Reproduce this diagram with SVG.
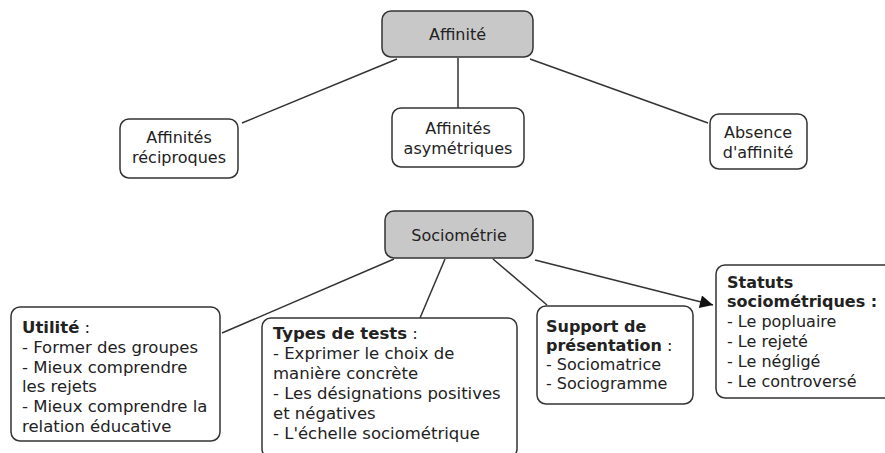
<svg xmlns="http://www.w3.org/2000/svg" width="885" height="453" viewBox="0 0 885 453">
<defs>
<style>
.box{fill:#fff;stroke:#333;stroke-width:1.5}
.hub{fill:#c8c8c8;stroke:#333;stroke-width:1.5}
.c{stroke:#333;stroke-width:1.5;fill:none}
text{font-family:"DejaVu Sans",Verdana,sans-serif;font-size:16px;fill:#222}
.l{font-size:16.5px}
.m{text-anchor:middle}
.b{font-weight:bold}
</style>
<marker id="arr" viewBox="0 0 10 10" refX="10" refY="5" markerWidth="18" markerHeight="13" markerUnits="userSpaceOnUse" orient="auto">
<path d="M0,0 L10,5 L0,10 Z" fill="#111"/>
</marker>
</defs>
<rect width="885" height="453" fill="#fff"/>
<g id="connectors">
<line class="c" x1="397" y1="59" x2="242" y2="123"/>
<line class="c" x1="458" y1="58" x2="458" y2="108"/>
<line class="c" x1="530" y1="59" x2="708" y2="123"/>
<line class="c" x1="394" y1="259" x2="222" y2="333"/>
<line class="c" x1="445" y1="259" x2="420" y2="318"/>
<line class="c" x1="493" y1="259" x2="547" y2="305"/>
<line class="c" x1="535" y1="260" x2="713" y2="305" marker-end="url(#arr)"/>
</g>
<g id="affinite">
<rect class="hub" x="382" y="11" width="151" height="46" rx="9"/>
<text class="m" x="457.5" y="40">Affinité</text>
</g>
<g id="reciproques">
<rect class="box" x="120" y="119" width="118" height="59" rx="9"/>
<text class="m" x="179" y="143">Affinités</text>
<text class="m" x="179" y="163">réciproques</text>
</g>
<g id="asymetriques">
<rect class="box" x="392" y="108" width="132" height="59" rx="9"/>
<text class="m" x="458" y="134">Affinités</text>
<text class="m" x="458" y="154">asymétriques</text>
</g>
<g id="absence">
<rect class="box" x="710" y="114" width="97" height="55" rx="9"/>
<text class="m" x="758" y="138">Absence</text>
<text class="m" x="758" y="158">d'affinité</text>
</g>
<g id="sociometrie">
<rect class="hub" x="385" y="211" width="148" height="47" rx="9"/>
<text class="m" x="459" y="241">Sociométrie</text>
</g>
<g id="utilite">
<rect class="box" x="11" y="307" width="209" height="134" rx="9"/>
<text class="l" x="22" y="333"><tspan class="b">Utilité</tspan> :</text>
<text class="l" x="22" y="352.8">- Former des groupes</text>
<text class="l" x="22" y="372.6">- Mieux comprendre</text>
<text class="l" x="22" y="392.4">les rejets</text>
<text class="l" x="22" y="412.2">- Mieux comprendre la</text>
<text class="l" x="22" y="432">relation éducative</text>
</g>
<g id="types">
<rect class="box" x="262" y="318" width="255" height="140" rx="9"/>
<text class="l" x="273" y="339"><tspan class="b">Types de tests</tspan> :</text>
<text class="l" x="273" y="359">- Exprimer le choix de</text>
<text class="l" x="273" y="379">manière concrète</text>
<text class="l" x="273" y="399">- Les désignations positives</text>
<text class="l" x="273" y="419">et négatives</text>
<text class="l" x="273" y="439">- L'échelle sociométrique</text>
</g>
<g id="support">
<rect class="box" x="537" y="306" width="156" height="98" rx="9"/>
<text x="546" y="332" class="b">Support de</text>
<text x="546" y="351"><tspan class="b">présentation</tspan> :</text>
<text x="546" y="370">- Sociomatrice</text>
<text x="546" y="389">- Sociogramme</text>
</g>
<g id="statuts">
<rect class="box" x="716" y="265" width="180" height="133" rx="9"/>
<text x="727" y="288" class="b">Statuts</text>
<text x="727" y="307" class="b">sociométriques :</text>
<text x="727" y="327">- Le popluaire</text>
<text x="727" y="347">- Le rejeté</text>
<text x="727" y="367">- Le négligé</text>
<text x="727" y="387">- Le controversé</text>
</g>
</svg>
